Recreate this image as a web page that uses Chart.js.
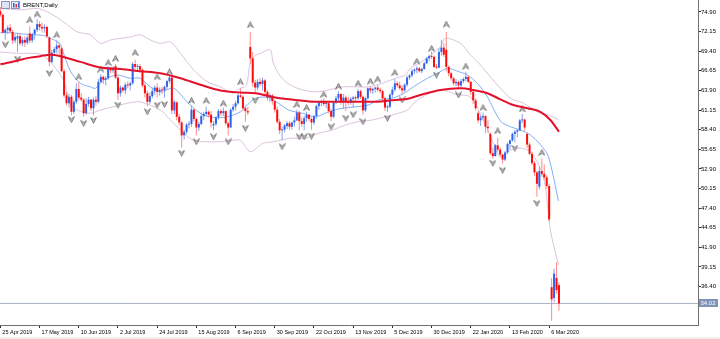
<!DOCTYPE html>
<html>
<head>
<meta charset="utf-8">
<style>
  html, body { margin: 0; padding: 0; background: #ffffff; }
  #wrap { width: 720px; height: 339px; }
</style>
</head>
<body>
<div id="wrap"><canvas id="chart" width="720" height="339"></canvas></div>
<script src="https://cdn.jsdelivr.net/npm/chart.js@4.4.1/dist/chart.umd.min.js"></script>
<script>
// bar index 0 = 25 Apr 2019, one bar per trading day
const tickIdx = [0, 16, 32, 48, 64, 80, 96, 112, 128, 144, 160, 176, 192, 208, 224];
const tickText = ['25 Apr 2019', '17 May 2019', '10 Jun 2019', '2 Jul 2019', '24 Jul 2019', '15 Aug 2019',
  '6 Sep 2019', '30 Sep 2019', '22 Oct 2019', '13 Nov 2019', '5 Dec 2019', '30 Dec 2019',
  '22 Jan 2020', '13 Feb 2020', '6 Mar 2020'];
const priceTicks = [74.90, 72.15, 69.40, 66.65, 63.90, 61.15, 58.40, 55.65, 52.90, 50.15, 47.40, 44.65, 41.90, 39.15, 36.40];

const opens = [
  75.0,74.5,72.0,72.4,72.7,72.1,70.9,71.2,71.5,70.5,
  71.0,70.6,71.9,70.9,71.8,72.4,73.2,72.8,72.6,72.8,
  71.3,67.9,69.2,69.7,70.2,69.8,66.6,63.2,62.1,63.0,
  60.9,62.3,64.1,62.9,62.6,60.7,62.0,62.6,61.4,62.6,
  62.3,65.1,65.8,65.4,65.6,67.0,66.7,67.3,65.7,63.5,
  64.3,63.9,64.7,64.6,64.9,67.6,67.2,67.3,66.8,64.6,
  63.5,62.3,63.1,63.8,64.3,63.7,64.0,63.9,64.4,65.2,
  65.7,61.1,62.2,60.2,59.4,57.6,58.1,59.1,59.2,61.2,
  59.9,58.7,59.2,60.3,60.6,60.9,60.5,59.0,59.2,60.1,
  61.0,60.7,61.0,59.3,58.7,61.2,61.6,62.1,63.2,63.0,
  61.4,61.0,70.0,68.4,65.0,64.3,65.1,64.8,65.3,63.7,
  62.9,63.2,62.4,61.2,59.5,58.3,58.4,58.9,59.3,58.8,
  59.4,59.7,60.8,59.6,59.2,60.0,60.5,59.9,59.4,60.3,
  61.7,62.2,62.4,62.0,62.1,61.0,60.2,62.2,62.8,63.4,
  62.3,62.9,62.4,62.2,62.7,62.9,62.8,63.8,63.0,61.1,
  62.8,64.2,63.9,64.1,64.3,64.0,63.8,62.8,61.5,61.6,
  63.3,64.0,64.9,64.6,64.2,63.9,64.7,65.7,66.0,66.6,
  66.8,67.0,66.6,66.9,67.7,68.4,68.7,68.6,67.2,67.1,
  69.3,69.9,69.6,67.2,66.3,65.6,64.9,65.1,64.6,65.2,
  65.5,65.8,65.1,63.7,62.5,60.7,59.7,60.1,60.3,58.8,
  57.8,55.1,54.7,56.2,55.6,54.9,54.2,55.2,56.4,56.9,
  57.8,58.1,58.3,59.7,59.8,57.8,56.3,55.0,53.7,52.4,
  50.4,52.6,52.2,51.7,50.5,36.3,34.8,37.6,36.6
];
const highs = [
  75.6,74.7,72.6,73.0,73.2,72.4,71.8,71.9,71.9,71.4,
  71.5,71.6,72.9,72.0,72.6,73.9,73.6,73.4,73.2,73.0,
  71.5,69.6,70.0,70.9,70.6,70.1,66.9,63.6,63.4,63.3,
  62.6,64.9,65.0,63.5,62.8,62.8,63.0,62.7,62.9,63.1,
  65.5,66.2,66.0,65.9,67.3,67.2,67.3,67.6,65.9,64.6,
  64.5,65.0,65.2,65.1,67.9,68.2,67.6,67.6,67.0,65.0,
  63.9,63.6,64.3,64.6,64.9,64.3,64.4,64.6,65.4,66.0,
  65.9,62.6,62.4,60.6,59.6,58.4,59.3,59.6,61.8,61.4,
  60.1,59.5,60.8,60.9,61.6,61.1,61.0,59.6,60.3,61.3,
  61.3,61.5,61.1,59.5,61.4,62.0,62.4,63.6,64.2,63.2,
  61.8,61.6,72.1,69.3,65.4,65.5,65.6,65.7,65.5,64.0,
  63.5,63.4,62.6,61.6,59.9,58.8,59.2,59.6,59.6,59.5,
  60.2,61.2,61.0,60.1,60.3,60.9,60.6,60.1,60.5,61.9,
  62.4,62.6,62.8,62.4,62.2,61.3,62.4,63.1,63.8,63.5,
  63.4,63.2,63.0,63.0,63.1,63.2,64.1,64.0,63.2,63.0,
  64.3,64.5,64.3,64.4,64.7,64.3,64.0,63.0,61.9,63.5,
  64.4,65.5,65.2,65.1,64.6,64.9,66.0,66.2,66.9,67.0,
  67.3,67.2,67.1,67.9,68.6,68.9,69.4,68.8,67.6,69.8,
  71.0,70.5,72.1,67.4,66.5,65.8,65.5,65.3,65.5,65.7,
  66.5,66.0,65.2,63.9,62.8,61.0,60.4,60.8,60.4,59.7,
  58.0,55.9,56.4,57.3,55.9,55.0,55.4,56.6,57.0,58.0,
  58.4,58.5,59.9,60.6,60.0,58.0,56.6,55.3,54.0,52.6,
  53.2,54.4,53.5,52.0,50.8,37.6,38.9,39.8,37.0
];
const lows = [
  74.2,71.9,71.0,71.8,71.9,70.4,70.5,69.3,70.2,70.1,
  70.0,70.3,70.5,70.6,71.0,72.1,72.3,72.0,72.0,71.2,
  67.3,67.7,68.9,69.1,68.9,66.4,62.9,61.8,61.5,60.4,
  60.6,62.0,62.6,62.3,60.2,60.5,61.6,61.0,60.4,61.8,
  62.1,64.9,64.8,64.6,65.4,66.3,66.3,65.5,62.6,63.0,
  63.6,63.4,64.2,63.9,64.7,66.8,66.6,66.4,64.3,62.9,
  61.7,62.0,62.8,63.3,62.9,63.2,63.4,62.9,64.1,64.9,
  60.6,60.6,59.7,59.0,55.9,57.0,57.8,58.6,58.8,59.5,
  57.6,58.2,59.0,59.7,60.2,60.1,58.7,58.3,58.9,59.8,
  60.3,60.3,59.0,57.6,58.6,60.9,61.1,61.9,62.8,61.1,
  59.5,60.4,67.6,64.4,63.4,64.0,64.5,63.9,63.4,62.5,
  62.3,61.9,60.8,59.2,57.8,56.9,58.0,58.5,58.4,58.4,
  58.8,59.6,58.3,58.8,58.3,59.5,59.6,58.4,59.1,59.9,
  61.2,61.7,61.7,61.4,60.7,59.6,60.0,62.0,62.3,61.9,
  61.3,61.0,61.8,61.9,61.5,62.3,62.6,62.7,60.5,60.9,
  62.6,63.5,63.4,63.6,63.8,63.5,62.4,61.0,60.9,61.4,
  62.9,63.7,64.3,64.0,63.4,63.7,64.4,65.4,65.7,66.2,
  66.3,66.4,66.3,66.8,67.6,68.0,68.3,67.0,66.9,67.0,
  68.8,68.6,66.6,65.9,65.3,64.6,64.5,64.1,64.3,64.9,
  65.2,64.9,63.3,62.0,61.1,59.3,58.9,59.7,57.9,58.0,
  54.8,54.3,54.6,55.3,54.5,53.6,54.0,55.0,55.6,56.7,
  56.6,57.3,58.2,59.3,58.2,55.8,54.8,53.4,51.9,49.0,
  50.0,51.8,51.3,50.1,45.5,31.6,34.2,35.4,33.0
];
const closes = [
  74.5,72.0,72.4,72.7,72.2,70.9,71.4,71.5,70.5,71.0,
  70.6,71.3,70.9,71.8,72.4,73.2,72.8,72.6,72.8,71.5,
  67.9,69.2,69.7,70.2,69.9,66.6,63.2,62.1,63.0,60.9,
  62.3,64.1,62.9,62.6,60.7,62.0,62.6,61.4,62.6,62.3,
  65.1,65.8,65.4,65.6,67.0,66.7,66.9,65.7,63.5,64.3,
  63.9,64.7,64.6,64.9,67.6,67.2,67.3,66.8,64.6,63.5,
  62.3,63.1,63.8,64.3,63.7,64.0,63.9,64.4,65.2,65.7,
  61.1,62.3,60.2,59.4,57.6,58.1,59.1,59.2,61.2,59.9,
  58.7,59.2,60.3,60.6,60.9,60.5,59.4,59.2,60.1,61.0,
  60.7,61.0,59.3,58.7,61.2,61.6,62.1,63.2,63.0,61.4,
  61.0,60.8,68.4,65.0,64.3,65.1,64.8,65.3,63.7,62.9,
  63.2,62.4,61.2,59.5,58.3,58.4,59.0,59.3,58.8,59.4,
  59.7,60.8,59.6,59.2,60.0,60.5,59.9,59.4,60.3,61.7,
  62.2,62.4,62.0,62.1,61.0,60.2,62.2,62.8,63.4,62.3,
  62.9,62.4,62.2,62.7,62.9,62.8,63.8,63.0,61.1,62.8,
  64.2,63.9,64.1,64.3,64.0,63.8,62.8,61.5,61.6,63.3,
  64.0,64.9,64.6,64.2,63.9,64.7,65.7,66.0,66.6,66.8,
  67.0,66.6,66.9,67.7,68.4,68.7,68.6,67.2,67.1,69.3,
  69.9,68.9,67.2,66.3,65.6,64.9,65.1,64.6,65.2,65.5,
  65.8,65.1,63.7,62.5,61.4,59.7,60.1,60.3,58.8,58.6,
  55.1,54.7,56.2,55.6,54.9,54.2,55.2,56.4,56.9,57.8,
  58.1,58.3,59.7,59.8,58.7,56.3,55.0,53.7,52.4,50.8,
  52.6,52.2,51.7,50.5,45.8,34.6,38.2,35.9,34.02
];

// indicator lines: [bar index, price]
const maSlow = [[0,67.56],[4.1,67.84],[8.2,68.2],[12.2,68.5],[16.3,68.7],[20.4,68.9],[24.5,68.7],[32.7,67.9],
  [40.8,67.1],[49,66.9],[57.1,66.6],[65.3,66.3],[73.5,65.6],[81.6,64.7],[89.8,63.9],[98,63.6],[104.1,63.5],
  [112.2,62.9],[120.4,62.56],[128.6,62.3],[136.7,62.3],[144.9,62.3],[153.1,62.3],[161.2,62.56],[165.3,62.65],
  [171.4,63.26],[179.6,63.96],[187.8,64.2],[193.1,63.96],[198.8,63.5],[204.1,62.65],[209.4,61.85],[215.1,61.4],
  [220.4,60.9],[224.5,59.75],[228,58.1]];
const bbMid = [[0,72.0],[4.1,72.0],[9.4,71.8],[13.5,71.7],[17.7,71.6],[21.8,71.0],[24.5,70.4],[25.3,69.6],
  [28.6,66.6],[32.7,64.9],[36.7,64.4],[38.8,64.2],[42.2,65.36],[47.6,66.06],[53,65.6],[57.1,65.6],[61.2,64.4],
  [65.3,63.7],[70.7,64.2],[76.2,62.3],[81.6,60.7],[87,60.1],[92.5,60.2],[98,60.9],[100,61.6],[104.1,62.8],
  [109.4,62.9],[113.5,62.1],[117.6,61.15],[123.3,60.7],[128.6,60.2],[133.9,60.9],[139.6,61.4],[144.9,61.6],
  [150.2,61.85],[154.3,62.56],[160,62.8],[165.3,63.6],[168.6,64.4],[174.3,65.6],[178.4,66.3],[182.4,67.0],
  [186.5,66.6],[190.6,66.06],[194.7,64.9],[198.8,63.0],[204.1,59.6],[208.2,58.8],[212.2,58.35],[216.3,57.65],
  [220.4,56.3],[223.7,54.6],[227.8,48.4]];
const bbUp = [[0,75.4],[8.2,75.2],[15.1,75.4],[19.2,74.9],[23.3,74.1],[27.3,73.1],[31.4,72.1],[36.7,71.7],
  [40.8,70.5],[44.9,70.97],[49,71.2],[53.1,71.4],[57.1,71.7],[61.2,70.97],[65.3,70.5],[69.4,70.7],[73.5,69.1],
  [78.8,66.8],[84.5,65.1],[89.8,64.4],[95.1,63.5],[98,64.2],[100.4,64.6],[102,67.8],[104,68.8],[106.1,69.1],
  [110.2,69.6],[111.4,67.7],[115.5,65.4],[121.2,64.2],[128.6,63.7],[133.9,63.96],[139.6,64.4],[144.9,64.4],
  [150.2,64.4],[155.9,64.9],[161.2,65.6],[165.3,66.06],[167.3,67.0],[171.4,67.8],[175.5,68.8],[179.6,70.0],
  [181.6,71.2],[187.8,70.5],[191.8,68.9],[195.9,67.5],[200,65.8],[204.1,64.2],[208.2,62.8],[213.5,62.1],
  [219.2,60.9],[223.7,60.45],[227.8,59.8]];
const bbLow = [[0,69.3],[6.9,69.1],[16.3,69.0],[20.4,67.9],[25.7,65.4],[28.6,62.0],[31.4,61.15],[36.7,60.7],
  [40.8,61.15],[46.1,61.6],[51.8,62.1],[57.1,62.3],[65.3,61.15],[69.4,59.75],[73.5,58.35],[78.8,56.9],
  [84.5,56.7],[89.8,56.7],[95.1,56.9],[98,56.9],[102,55.3],[107.3,56.5],[111.4,56.7],[118.4,57.2],[124.5,57.2],
  [129.8,57.9],[135.5,58.35],[140.8,59.05],[146.1,59.5],[151.8,59.75],[157.1,60.2],[162.4,60.7],[166.1,61.15],
  [170.2,62.56],[179.6,63.96],[186.5,63.3],[191.8,63.0],[197.1,59.75],[201.2,56.5],[204.1,54.6],[208.2,55.5],
  [212.2,55.8],[216.3,55.3],[220.4,53.0],[222.4,50.5],[224.5,44.3],[227.8,39.4]];

// fractal arrows: [bar index, price]
const fractalUp = [[12,73.8],[15,74.6],[23,71.7],[32,65.8],[41,66.9],[44,67.8],[47,68.4],[55,69.2],[64,65.8],
  [69,66.5],[78,62.5],[84,62.5],[91,62.1],[98,65.1],[102,73.1],[121,61.95],[125,61.5],[132,63.35],[138,64.5],
  [146,64.9],[151,65.2],[154,65.5],[161,66.4],[170,68.0],[176,69.8],[182,73.2],[190,67.3],[197,61.5],
  [203,58.25],[213,61.3],[221,55.2]];
const fractalDown = [[2,70.3],[7,68.3],[20,66.3],[29,59.8],[34,59.3],[38,59.7],[48,61.85],[60,60.9],[64,61.85],
  [67,61.95],[74,55.1],[80,56.7],[87,57.4],[93,56.7],[100,58.6],[104,62.5],[115,56.0],[122,57.4],[124,57.4],
  [127,57.5],[135,58.8],[141,60.0],[144,60.5],[148,59.5],[158,60.0],[164,62.56],[178,66.06],[187,63.26],
  [201,53.7],[205,52.7],[210,55.8],[219,48.06]];

const xMin = -0.15, xMax = 284.75;
const bull = '#2f62e8', bear = '#ff0a0a';
const bullWick = '#86a3f0', bearWick = '#ff8a8a';
const font = '"Liberation Sans", Arial, sans-serif';

function isBull(i) { return closes[i] >= opens[i]; }
const pts = arr => arr.map(p => ({ x: p[0], y: p[1] }));

// hollow grey arrowhead like the terminal's fractal glyph
function arrowImg(up) {
  const c = document.createElement('canvas');
  c.width = 7; c.height = 7;
  const g = c.getContext('2d');
  g.beginPath();
  if (up) { g.moveTo(3.5, 0.6); g.lineTo(6.4, 6.3); g.lineTo(3.5, 4.3); g.lineTo(0.6, 6.3); }
  else { g.moveTo(3.5, 6.4); g.lineTo(6.4, 0.7); g.lineTo(3.5, 2.7); g.lineTo(0.6, 0.7); }
  g.closePath();
  g.fillStyle = '#c4c4c4';
  g.fill();
  g.strokeStyle = '#6f6f6f';
  g.lineWidth = 0.9;
  g.stroke();
  return c;
}

const overlay = {
  id: 'overlay',
  beforeDraw(chart) {
    const g = chart.ctx;
    g.save();
    g.fillStyle = '#ffffff';
    g.fillRect(0, 0, chart.width, chart.height);
    g.fillStyle = '#efeee9';
    g.fillRect(0, 337, chart.width, 2);
    g.restore();
  },
  afterDraw(chart) {
    const g = chart.ctx;
    const ys = chart.scales.y;
    const last = closes[closes.length - 1];
    const py = Math.round(ys.getPixelForValue(last));
    g.save();
    // current price tag
    g.fillStyle = '#7f93b8';
    g.fillRect(699, py - 4, 19, 8);
    g.fillStyle = '#ffffff';
    g.font = '6px ' + font;
    g.textBaseline = 'middle';
    g.fillText(last.toFixed(2), 700.5, py + 0.5);
    // title icons + name
    g.fillStyle = '#dfe3f3'; g.fillRect(1.5, 1.5, 8, 7);
    g.strokeStyle = '#8c93bd'; g.lineWidth = 1; g.strokeRect(1.5, 1.5, 8, 7);
    g.fillStyle = '#e8ecf8'; g.fillRect(11.5, 1.5, 8, 7);
    g.strokeStyle = '#8c93bd'; g.strokeRect(11.5, 1.5, 8, 7);
    g.fillStyle = '#3b63d8'; g.fillRect(13, 3, 1.5, 4.5);
    g.fillStyle = '#e23030'; g.fillRect(15.5, 4, 1.5, 3.5);
    g.fillStyle = '#3b63d8'; g.fillRect(18, 2.5, 1, 5);
    g.fillStyle = '#000000';
    g.font = '6px ' + font;
    g.textBaseline = 'middle';
    g.fillText('BRENT,Daily', 23, 5.5);
    g.restore();
  }
};

const bodyData = opens.map((o, i) => ({ x: i, y: [o, closes[i]] }));
const wickData = lows.map((l, i) => ({ x: i, y: [l, highs[i]] }));
const lastClose = closes[closes.length - 1];

new Chart(document.getElementById('chart'), {
  type: 'bar',
  data: {
    datasets: [
      {
        type: 'line', data: pts(maSlow), borderColor: '#e3122c', borderWidth: 2,
        pointRadius: 0, cubicInterpolationMode: 'monotone', order: 0
      },
      {
        type: 'line', data: pts(fractalUp), showLine: false, pointStyle: arrowImg(true),
        pointRadius: 3, order: 1
      },
      {
        type: 'line', data: pts(fractalDown), showLine: false, pointStyle: arrowImg(false),
        pointRadius: 3, order: 1
      },
      {
        data: bodyData, barThickness: 2, minBarLength: 1, inflateAmount: 0, borderWidth: 0,
        backgroundColor: c => isBull(c.dataIndex) ? bull : bear, order: 2
      },
      {
        data: wickData, barThickness: 1, inflateAmount: 0, borderWidth: 0,
        backgroundColor: c => isBull(c.dataIndex) ? bullWick : bearWick, order: 3
      },
      {
        type: 'line', data: pts(bbMid), borderColor: '#7fb0f7', borderWidth: 1,
        pointRadius: 0, tension: 0.3, order: 4
      },
      {
        type: 'line', data: pts(bbUp), borderColor: '#dcc3dc', borderWidth: 1,
        pointRadius: 0, tension: 0.3, order: 5
      },
      {
        type: 'line', data: pts(bbLow), borderColor: '#dcc3dc', borderWidth: 1,
        pointRadius: 0, tension: 0.3, order: 5
      },
      {
        type: 'line', data: [{ x: xMin, y: lastClose }, { x: xMax, y: lastClose }],
        borderColor: '#aab3c2', borderWidth: 1, pointRadius: 0, order: 6
      }
    ]
  },
  options: {
    responsive: false,
    animation: false,
    devicePixelRatio: 1,
    layout: { padding: 0, autoPadding: false },
    datasets: { bar: { grouped: false } },
    plugins: { legend: { display: false }, tooltip: { enabled: false } },
    scales: {
      x: {
        type: 'linear', min: xMin, max: xMax, offset: false,
        grid: { offset: false, drawOnChartArea: false, drawTicks: true, tickLength: 3, color: '#303030' },
        border: { display: true, color: '#707070', width: 1 },
        afterBuildTicks: axis => { axis.ticks = tickIdx.map(v => ({ value: v })); },
        afterFit: axis => { axis.height = 14; axis.paddingLeft = 0; axis.paddingRight = 0; },
        ticks: {
          autoSkip: false, maxRotation: 0, align: 'start', labelOffset: 2, padding: 1,
          color: '#000000', font: { family: font, size: 5.5 },
          callback: v => tickText[tickIdx.indexOf(v)] || ''
        }
      },
      y: {
        type: 'linear', position: 'right', min: 31.0, max: 76.58, beginAtZero: false,
        grid: { drawOnChartArea: false, drawTicks: true, tickLength: 3, color: '#303030' },
        border: { display: true, color: '#707070', width: 1 },
        afterBuildTicks: axis => { axis.ticks = priceTicks.map(v => ({ value: v })); },
        afterFit: axis => { axis.width = 22; axis.paddingTop = 0; axis.paddingBottom = 0; },
        ticks: {
          padding: 0, color: '#000000', font: { family: font, size: 6 },
          callback: v => v.toFixed(2)
        }
      }
    }
  },
  plugins: [overlay]
});
</script>
</body>
</html>
